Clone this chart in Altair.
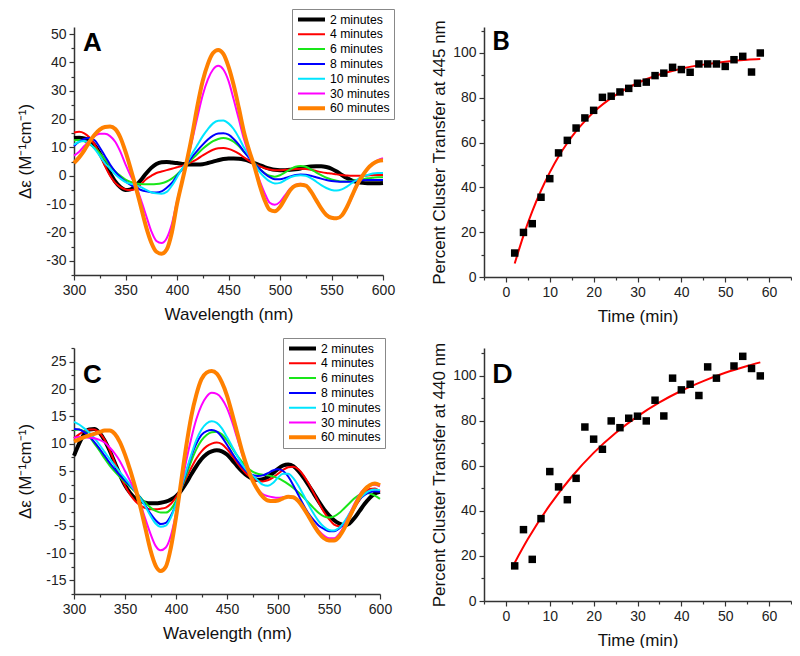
import altair as alt
import pandas as pd

# ---------------- data ----------------
WL = list(range(300, 605, 5))
SERIES = ["2 minutes", "4 minutes", "6 minutes", "8 minutes", "10 minutes", "30 minutes", "60 minutes"]
COLORS = ["#000000", "#ff0000", "#19e619", "#0000ff", "#00e5ff", "#ff00ff", "#ff8000"]
WIDTHS = [4, 2, 2, 2, 2, 2, 4]

# Panel A spectra (delta-epsilon, 300..600 nm every 5 nm)
A_2 = [13.3, 13.4, 13.2, 12.5, 10.8, 8, 4.5, 1, -2, -4, -5, -4.8, -3.5, -1.5, 0.8, 2.8, 4.2, 4.8, 4.9, 4.7,
       4.5, 4.2, 4, 4, 4, 4.1, 4.5, 5, 5.5, 5.9, 6.1, 6.1, 6, 5.7, 5.2, 4.5, 3.8, 3.1, 2.5, 2.1,
       2, 2, 2.1, 2.3, 2.6, 3, 3.3, 3.4, 3.4, 3.1, 2.5, 1.5, 0.3, -0.8, -1.7, -2.2, -2.5, -2.6, -2.6, -2.6, -2.5]
A_4 = [15.3, 15.5, 15, 13.5, 11, 7.5, 3.5, 0, -2.5, -4, -4.8, -5, -4.5, -3, -1.2, 0, 1, 1.5, 2, 2.5,
       3, 3.5, 4.2, 5, 6, 7.2, 8.3, 9.2, 9.7, 9.8, 9.5, 8.8, 7.8, 6.5, 5.3, 4.3, 3.4, 2.7, 2.2, 2,
       2, 2.1, 2.2, 2.4, 2.5, 2.4, 2.1, 1.7, 1.3, 1, 0.8, 0.5, 0.3, 0.1, 0, 0, 0, 0.1, 0.2, 0.3, 0.3]
A_6 = [12.5, 12.6, 12.2, 11.2, 9.8, 8, 5.8, 3.5, 1.5, 0, -1.3, -2.2, -2.7, -2.9, -3, -3, -2.9, -2.6, -2, -1,
       0.5, 2.3, 4.2, 6, 7.8, 9.5, 11, 12.2, 13, 13.3, 13, 12, 10.5, 8.5, 6.5, 4.5, 2.5, 1, 0, -0.3,
       0.2, 1.2, 2.3, 3.2, 3.5, 3.2, 2.3, 1.2, 0.2, -0.7, -1.3, -1.7, -2, -2, -1.8, -1.5, -1.2, -0.9, -0.7, -0.5, -0.5]
A_8 = [10.5, 12, 13, 13.3, 12.5, 10, 7, 4, 1.5, -0.5, -2, -3.2, -4.2, -5, -5.5, -5.8, -5.9, -5.5, -4.2, -2.5,
       0, 2.3, 4.5, 6.8, 9, 11, 12.8, 14.2, 14.9, 15, 14.5, 13, 11, 8.5, 6.3, 4.3, 2.5, 0.8, -0.5, -1.2,
       -1.2, -0.8, -0.2, 0.3, 0.5, 0.4, 0, -0.5, -1, -1.5, -1.8, -2, -2.1, -2.1, -2, -1.8, -1.6, -1.5, -1.5, -1.5, -1.5]
A_10 = [11, 12, 12.3, 11.5, 9.5, 7, 4.5, 2.5, 0.5, -1, -2.2, -2.8, -3.3, -4, -5, -5.8, -6.2, -6.3, -5.7, -3.5,
        -0.5, 2.5, 5, 8, 11, 14, 16.5, 18.5, 19.4, 19.5, 18.5, 16.5, 13.5, 10, 7, 4.2, 1.5, -0.5, -2, -2.7,
        -2.5, -1.5, -0.5, 0, 0.2, 0, -0.8, -2, -3.3, -4.3, -5, -5.2, -4.8, -3.8, -2.5, -1.3, -0.3, 0.3, 0.8, 1, 1]
A_30 = [7.1, 8.5, 10.5, 12.5, 14, 14.8, 14.8, 14, 12, 8.5, 4, 0, -3.5, -8.5, -14, -19.5, -23, -23.7, -22, -17,
        -9, -1.5, 5.5, 13, 21, 28.5, 34, 37.5, 38.8, 37.5, 33.5, 27, 20, 13, 7.5, 3.5, -1.5, -6, -9.5, -10.2,
        -9.2, -6.8, -4.5, -3.2, -2.8, -3.3, -5.3, -8.3, -11.3, -13.6, -14.7, -14.9, -14, -11.3, -7.5, -3.5, -0.3, 2.3, 4.3, 5.5, 6.2]
A_60 = [4.5, 6.5, 9, 12, 14.5, 16.3, 17.2, 17.4, 16.5, 13.5, 8.5, 2.5, -4, -11, -18, -23.5, -26.8, -27.5, -26, -20,
        -10, -2, 6, 15, 25, 33.5, 39.5, 43.3, 44.4, 43, 38.5, 32, 24, 15.5, 9, 3.5, -3, -8.5, -12, -12.5,
        -11, -8, -5, -3.5, -3.2, -3.5, -5.5, -8.5, -11.5, -13.8, -14.8, -15, -14, -11, -7, -3, 0, 2.5, 4.2, 5.2, 5.5]

# Panel C spectra
C_2 = [7.8, 10, 11.8, 12.6, 12.7, 12, 10.6, 8.7, 6.5, 4.3, 2.4, 1, 0, -0.5, -0.8, -0.9, -0.9, -0.8, -0.6, -0.2,
       0.4, 1.4, 2.8, 4.4, 5.9, 7.2, 8.1, 8.6, 8.8, 8.6, 8, 7, 5.9, 4.9, 4.1, 3.6, 3.4, 3.5, 3.9, 4.6,
       5.4, 6, 6.2, 5.9, 5, 3.8, 2.4, 0.9, -0.6, -2, -3.1, -4, -4.6, -4.9, -4.6, -3.6, -2.3, -1, 0.1, 0.9, 1.2]
C_4 = [11, 11.7, 12.3, 12.6, 12.6, 12, 10.7, 8.8, 6.5, 4.3, 2.3, 0.7, -0.5, -1.3, -1.8, -2, -2, -1.9, -1.7, -1,
       0.2, 1.8, 3.7, 5.6, 7.3, 8.6, 9.5, 10, 10.2, 9.9, 9, 7.8, 6.5, 5.3, 4.3, 3.6, 3.2, 3.1, 3.3, 3.8,
       4.5, 5.2, 5.7, 5.8, 5.3, 4.2, 2.7, 1, -0.8, -2.5, -3.8, -4.8, -5.1, -4.7, -3.5, -1.8, -0.3, 0.9, 1.7, 1.8, 1.2]
C_6 = [12.5, 12.6, 12.2, 11.3, 10, 8.7, 7.3, 6, 4.9, 3.9, 3, 2.1, 1.2, 0.2, -0.8, -1.7, -2.3, -2.6, -2.6, -2,
       -0.5, 1.7, 4.2, 6.8, 9, 10.6, 11.6, 12.1, 12.2, 11.7, 10.6, 9.2, 7.8, 6.6, 5.6, 4.9, 4.5, 4.3, 4.2, 4,
       3.7, 3.2, 2.6, 1.9, 1.1, 0.2, -0.8, -1.8, -2.7, -3.3, -3.5, -3.3, -2.7, -1.8, -0.9, 0, 0.7, 1, 0.9, 0.5, -0.1]
C_8 = [12.7, 12.6, 12.1, 11.3, 10.3, 9.1, 7.8, 6.5, 5.3, 4.2, 3.2, 2.3, 1.3, 0.1, -1.3, -2.8, -4, -4.7, -4.5, -3.2,
       -1, 1.8, 4.8, 7.7, 10, 11.6, 12.3, 12.5, 12.2, 11.2, 9.8, 8.3, 6.9, 5.7, 4.8, 4.3, 4.1, 4.2, 4.6, 5.1,
       5.3, 5, 4, 2.4, 0.6, -1.2, -2.8, -4, -5, -5.6, -6, -6, -5.5, -4.5, -3, -1.5, -0.2, 0.6, 1.1, 1.3, 1.2]
C_10 = [14, 13.5, 12.8, 12, 11, 9.8, 8.5, 7.2, 6, 4.8, 3.7, 2.5, 1.3, 0, -1.5, -3.2, -4.6, -5.2, -5, -3.5,
        -1, 2, 5, 8, 10.7, 12.6, 13.7, 14.1, 13.8, 12.8, 11.2, 9.5, 7.8, 6.2, 5, 4.2, 3.3, 2.5, 2.3, 2.8,
        3.8, 4.5, 4.5, 3.7, 2.3, 0.6, -1.2, -2.8, -4.2, -5.2, -5.8, -5.9, -5.4, -4.3, -2.8, -1.3, -0.1, 0.8, 1.4, 1.6, 1.5]
C_30 = [11.1, 11.2, 11.2, 11.1, 11, 10.7, 10.2, 9.3, 8.2, 6.8, 5, 3.2, 1.3, -1, -3.8, -6.5, -8.7, -9.5, -9, -6.8,
        -2.8, 2, 6.8, 11, 14.5, 17, 18.6, 19.3, 19.1, 18.2, 16.5, 14, 11, 8, 5.3, 3.2, 1.7, 0.8, 0.4, 0.2,
        0.1, 0.2, 0.3, 0.1, -0.6, -1.8, -3.2, -4.6, -5.9, -6.8, -7.3, -7.3, -6.5, -5, -3, -1, 0.7, 1.8, 2.4, 2.5, 2.2]
C_60 = [10.4, 10.8, 11.2, 11.5, 11.8, 12.1, 12.4, 12.4, 11.8, 10.3, 8, 5.2, 2, -1.5, -5.5, -9.5, -12.3, -13.3, -12.5, -9,
        -3.5, 3, 9.5, 15, 19, 21.8, 23, 23.3, 22.8, 21.2, 18.8, 15.5, 12, 8.5, 5.6, 3.3, 1.6, 0.3, -0.4, -0.5,
        -0.4, 0, 0.3, 0.2, -0.5, -1.8, -3.3, -4.9, -6.3, -7.3, -7.7, -7.7, -7, -5.5, -3.5, -1.5, 0.3, 1.6, 2.4, 2.7, 2.4]

# Panel B: percent transfer at 445 nm
B_T = [2, 4, 6, 8, 10, 12, 14, 16, 18, 20, 22, 24, 26, 28, 30, 32, 34, 36, 38, 40, 42, 44, 46, 48, 50, 52, 54, 56, 58]
B_PCT = [10.7, 19.9, 23.8, 35.6, 43.9, 55.4, 61, 66.5, 71, 74.4, 80.2, 80.7, 82.6, 84.2, 86.5, 87, 89.9, 91, 93.6,
         92.6, 91.4, 95.1, 95.1, 95.1, 94, 97, 98.5, 91.5, 100]
B_FIT_T = [2, 4, 6, 8, 10, 12, 14, 16, 18, 20, 25, 30, 35, 40, 45, 50, 55, 58]
B_FIT = [6, 18.5, 29.3, 38.6, 46.7, 53.8, 59.8, 65.1, 69.6, 73.6, 81.2, 86.6, 90.4, 93, 94.8, 96.1, 97, 97.3]

# Panel D: percent transfer at 440 nm
D_T = [2, 4, 6, 8, 10, 12, 14, 16, 18, 20, 22, 24, 26, 28, 30, 32, 34, 36, 38, 40, 42, 44, 46, 48, 52, 54, 56, 58]
D_PCT = [15.6, 31.7, 18.5, 36.6, 57.5, 50.7, 45, 54.5, 77.3, 71.9, 67.4, 80, 77, 81.2, 82.1, 80, 89.2, 82.2, 99,
         93.8, 96.3, 91.3, 104, 99, 104.4, 108.7, 103.3, 100]
D_FIT_T = [2, 5, 10, 15, 20, 25, 30, 35, 40, 45, 50, 55, 58]
D_FIT = [17, 27.5, 42.6, 55.2, 65.8, 74.6, 82, 88.2, 93.4, 97.7, 101.4, 104.4, 106]

A_Y_TICKS = [v / 2 for v in range(-70, 101, 10)]      # -35 .. 50 step 5
C_Y_TICKS = [v / 2 for v in range(-35, 56, 5)]        # -17.5 .. 27.5 step 2.5
WL_TICKS = list(range(300, 601, 25))
T_TICKS = list(range(-5, 66, 5))
P_TICKS = list(range(0, 111, 10))

FONT = "Liberation Sans"


def spectra_frame(curves):
    rows = []
    for name, vals in zip(SERIES, curves):
        for w, v in zip(WL, vals):
            rows.append({"wl": w, "de": v, "series": name})
    return pd.DataFrame(rows)


def axis(values, test, title, **kw):
    return alt.Axis(
        values=values,
        title=title,
        labelExpr=f"({test}) ? '' + datum.value : ''",
        tickSize={"condition": {"test": test, "value": 5}, "value": 3},
        labelOverlap=False,
        labelFlush=False,
        grid=False,
        **kw,
    )


def spectra_panel(curves, ydom, yticks, ytest, letter, lx, ly, ty, w, h):
    df = spectra_frame(curves)
    leg = alt.Legend(
        title=None, orient="none", legendX=lx, legendY=ly,
        symbolType="stroke", symbolSize=729, clipHeight=13, rowPadding=1.8,
        labelFontSize=12.2, labelFont=FONT, labelColor="black", labelOffset=3,
        padding=4, strokeColor="#888", fillColor="white",
    )
    lines = alt.Chart(df).mark_line(interpolate="monotone").encode(
        x=alt.X("wl:Q", scale=alt.Scale(domain=[300, 600], nice=False, zero=False),
                axis=axis(WL_TICKS, "datum.value % 50 === 0", "Wavelength (nm)",
                          titleY=44, titleBaseline="alphabetic")),
        y=alt.Y("de:Q", scale=alt.Scale(domain=ydom, nice=False, zero=False),
                axis=axis(yticks, ytest, "Δε (M⁻¹cm⁻¹)", titleX=-49, titleBaseline="middle")),
        color=alt.Color("series:N", scale=alt.Scale(domain=SERIES, range=COLORS), legend=leg),
        strokeWidth=alt.StrokeWidth("series:N",
                                    scale=alt.Scale(type="ordinal", domain=SERIES, range=WIDTHS),
                                    legend=leg),
    )
    lab = alt.Chart(pd.DataFrame({"t": [letter]})).mark_text(
        align="left", baseline="alphabetic", font=FONT, fontSize=26, fontWeight="bold", color="black"
    ).encode(text="t:N", x=alt.value(9), y=alt.value(ty))
    return alt.layer(lines, lab).properties(width=w, height=h)


def kinetics_panel(t, pct, ft, fv, letter, ytitle, ty, ytop, w, h):
    pts = pd.DataFrame({"t": t, "p": pct})
    fit = pd.DataFrame({"t": ft, "p": fv})
    xenc = alt.X("t:Q", scale=alt.Scale(domain=[-5, 65], nice=False, zero=False),
                 axis=axis(T_TICKS, "datum.value % 10 === 0", "Time (min)",
                           titleY=44, titleBaseline="alphabetic"))
    yenc = alt.Y("p:Q", scale=alt.Scale(domain=[0, ytop], nice=False, zero=False),
                 axis=axis(P_TICKS, "datum.value % 20 === 0", ytitle, titleX=-45, titleBaseline="middle"))
    sq = alt.Chart(pts).mark_square(size=56, color="black", opacity=1).encode(x=xenc, y=yenc)
    ln = alt.Chart(fit).mark_line(color="#ff0000", strokeWidth=2, interpolate="monotone").encode(x=xenc, y=yenc)
    lab = alt.Chart(pd.DataFrame({"l": [letter]})).mark_text(
        align="left", baseline="alphabetic", font="Lato", fontSize=27, fontWeight="bold", color="black"
    ).encode(text="l:N", x=alt.value(8), y=alt.value(ty))
    return alt.layer(ln, sq, lab).properties(width=w, height=h)


pA = spectra_panel([A_2, A_4, A_6, A_8, A_10, A_30, A_60], [-35, 52.5], A_Y_TICKS,
                   "datum.value % 10 === 0", "A", 218, -18, 24, 309, 248)
pC = spectra_panel([C_2, C_4, C_6, C_8, C_10, C_30, C_60], [-17.5, 27.5], C_Y_TICKS,
                   "datum.value % 5 === 0", "C", 209, -10, 35, 306, 246)
pB = kinetics_panel(B_T, B_PCT, B_FIT_T, B_FIT, "B", "Percent Cluster Transfer at 445 nm", 23, 111.6, 307, 250)
pD = kinetics_panel(D_T, D_PCT, D_FIT_T, D_FIT, "D", "Percent  Cluster Transfer at 440 nm", 35, 112.4, 307, 253)

chart = alt.concat(
    pA, pB, pC, pD, columns=2, spacing={"row": 71, "column": 101}, bounds="flush"
).resolve_scale(
    color="independent", strokeWidth="independent"
).resolve_legend(
    color="independent", strokeWidth="independent"
).properties(
    padding={"left": 8, "top": 0, "right": 0, "bottom": 0}
).configure_view(stroke=None).configure_axis(
    labelFont=FONT, labelFontSize=14, labelColor="#222",
    titleFont=FONT, titleFontSize=17, titleColor="#111", titleFontWeight="normal",
    domainColor="#333", domainWidth=1.5, tickColor="#333", tickWidth=1.2, labelPadding=3,
)

chart.save("out.html", embed_options={"renderer": "svg", "actions": False})
